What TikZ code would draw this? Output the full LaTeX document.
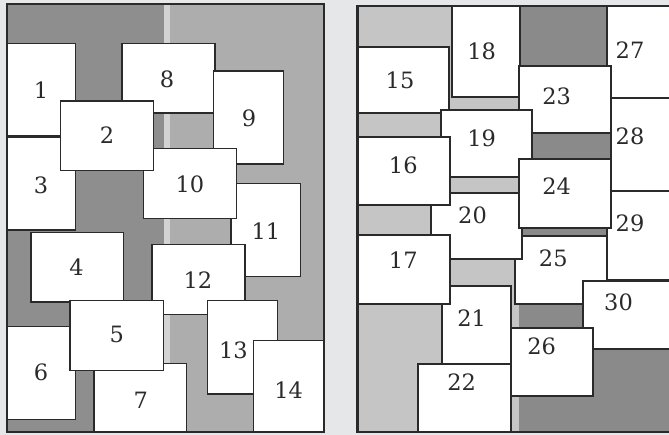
\documentclass[tikz,border=0pt]{standalone}
\usepackage{tikz}
\usepackage{fontspec}
\newfontfamily\cardfont{DejaVu Serif}
\definecolor{pagebg}{HTML}{E6E7E9}
\definecolor{inkclr}{HTML}{2A2A2A}
\definecolor{darkgnd}{HTML}{8E8E8E}
\definecolor{lightgnd}{HTML}{ADADAD}
\definecolor{stripegnd}{HTML}{D3D3D3}
\definecolor{palegnd}{HTML}{C5C5C5}
\definecolor{deepgnd}{HTML}{8A8A8A}
\tikzset{
  card/.style  = {draw=inkclr, fill=white, line width=1.3pt},
  cardR/.style = {card, line width=2.2pt},
  num/.style   = {font=\cardfont\fontsize{22.5}{27}\selectfont, text=inkclr, inner sep=0pt},
  frame/.style = {draw=inkclr, line width=2pt},
}

\begin{document}
\begin{tikzpicture}[x=1pt, y=-1pt]

\useasboundingbox (0,0) rectangle (669,435);
\clip (0,0) rectangle (669,435);
\fill[pagebg] (0,0) rectangle (669,435);

%% left panel ground
\fill[darkgnd]   (6.7,4.3) rectangle (164,432);
\fill[stripegnd] (164,4.3) rectangle (170,432);
\fill[lightgnd]  (170,4.3) rectangle (324.3,432);

%% left panel cards (back to front)
\draw[card] (6.7,43.3) rectangle (75.7,136);      \node[num] (n1)  at (41,90)      {1};
\draw[card] (6.7,137.3) rectangle (75.7,230);     \node[num] (n3)  at (41,185)     {3};
\draw[card] (122,43.3) rectangle (215,113);       \node[num] (n8)  at (167,79)     {8};
\draw[card] (213.7,71) rectangle (283.7,164);     \node[num] (n9)  at (249,118)    {9};
\draw[card] (231,183.3) rectangle (300.3,276.7);  \node[num] (n11) at (266,231)    {11};
\draw[card] (143.7,148.3) rectangle (236.7,218.3);\node[num] (n10) at (190,184)    {10};
\draw[card] (60.3,101) rectangle (153.7,170.7);   \node[num] (n2)  at (107,135)    {2};
\draw[card] (31,232.7) rectangle (123.7,302);     \node[num] (n4)  at (76.5,267.5) {4};
\draw[card] (152,244.7) rectangle (245,314.3);    \node[num] (n12) at (198,280.5)  {12};
\draw[card] (207.7,300.7) rectangle (277.3,394);  \node[num] (n13) at (233.5,350)  {13};
\draw[card] (253.7,340.3) rectangle (324.3,432);  \node[num] (n14) at (288.7,390.5){14};
\draw[card] (6.7,326.7) rectangle (75.7,419.3);   \node[num] (n6)  at (41,372)     {6};
\draw[card] (94,363.7) rectangle (186.7,432);     \node[num] (n7)  at (140.7,400)  {7};
\draw[card] (70,300.7) rectangle (163.3,370.3);   \node[num] (n5)  at (116.7,334.5){5};

\draw[frame] (6.7,4.3) rectangle (324.3,432);

%% right panel ground
\fill[palegnd] (357.3,6) rectangle (519,432);
\fill[deepgnd] (519,6) rectangle (690,432);

%% right panel cards (back to front)
\draw[cardR] (358.3,46.7) rectangle (449.3,113.3); \node[num] (n15) at (400,80)      {15};
\draw[cardR] (451.7,6) rectangle (520,97.3);       \node[num] (n18) at (481.7,51.7)  {18};
\draw[cardR] (606.7,6) rectangle (700,98.3);       \node[num] (n27) at (630,50)      {27};
\draw[cardR] (610.7,98.3) rectangle (700,190.7);   \node[num] (n28) at (630,136.7)   {28};
\draw[cardR] (519,65.7) rectangle (610.7,133.3);   \node[num] (n23) at (556.7,96.7)  {23};
\draw[cardR] (440.7,110) rectangle (532.3,177.3);  \node[num] (n19) at (481.7,138.3) {19};
\draw[cardR] (606.7,190.7) rectangle (700,280);    \node[num] (n29) at (630,223.5)   {29};
\draw[cardR] (515,235.7) rectangle (606.7,304);    \node[num] (n25) at (553.3,258.3) {25};
\draw[cardR] (430.7,192.7) rectangle (521.7,259.3);\node[num] (n20) at (472.5,215)   {20};
\draw[cardR] (358.3,136.7) rectangle (450,205);    \node[num] (n16) at (403.3,165)   {16};
\draw[cardR] (519,159.3) rectangle (610.7,227.7);  \node[num] (n24) at (556.7,186)   {24};
\draw[cardR] (582.7,280.7) rectangle (700,349);    \node[num] (n30) at (618.5,302.5) {30};
\draw[cardR] (510.7,327.7) rectangle (592.7,396);  \node[num] (n26) at (541.7,346.7) {26};
\draw[cardR] (441.7,285.7) rectangle (510.7,364);  \node[num] (n21) at (471.7,318.3) {21};
\draw[cardR] (358.3,235) rectangle (450,304);      \node[num] (n17) at (403.3,260)   {17};
\draw[cardR] (418.3,364) rectangle (510.7,432);    \node[num] (n22) at (461.7,381.7) {22};

\draw[frame, line width=2.5pt] (357.3,6) rectangle (700,432);

\end{tikzpicture}
\end{document}
